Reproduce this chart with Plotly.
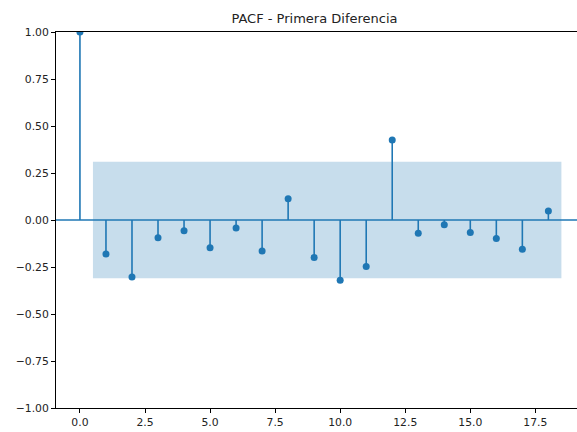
import plotly.graph_objects as go

lags = list(range(19))
pacf_vals = [1.0, -0.181, -0.303, -0.094, -0.057, -0.147, -0.043, -0.165, 0.113,
             -0.199, -0.321, -0.247, 0.426, -0.071, -0.025, -0.066, -0.099, -0.156, 0.048]
conf = 0.31
title_text = "PACF - Primera Diferencia"
x_ticks = [0.0, 2.5, 5.0, 7.5, 10.0, 12.5, 15.0, 17.5]
y_ticks = [-1.0, -0.75, -0.5, -0.25, 0.0, 0.25, 0.5, 0.75, 1.0]

C0 = "#1f77b4"

fig = go.Figure()

# confidence band
bx0 = lags[1] - 0.5
bx1 = lags[-1] + 0.5
fig.add_trace(go.Scatter(
    x=[bx0, bx1, bx1, bx0, bx0], y=[conf, conf, -conf, -conf, conf],
    fill="toself", fillcolor="rgba(31,119,180,0.25)", line=dict(width=0),
    mode="lines", hoverinfo="skip", showlegend=False))

# stems
sx, sy = [], []
for l, v in zip(lags, pacf_vals):
    sx += [l, l, None]
    sy += [0, v, None]
fig.add_trace(go.Scatter(x=sx, y=sy, mode="lines", line=dict(color=C0, width=1.6),
                         showlegend=False, hoverinfo="skip"))

# zero line
fig.add_trace(go.Scatter(x=[-5, 30], y=[0, 0], mode="lines",
                         line=dict(color=C0, width=1.6), showlegend=False, hoverinfo="skip"))

# markers
fig.add_trace(go.Scatter(x=lags, y=pacf_vals, mode="markers",
                         marker=dict(color=C0, size=7), showlegend=False))

fig.update_layout(
    width=577, height=432,
    margin=dict(l=56, r=0, t=32, b=24),
    paper_bgcolor="white", plot_bgcolor="white",
    font=dict(family="DejaVu Sans", size=10.8, color="#222"),
    title=dict(text=title_text, x=0.545, xanchor="center", y=1 - 18 / 432, yanchor="middle",
               font=dict(family="DejaVu Sans", size=13, color="#222")),
    xaxis=dict(range=[-0.92, 19.1], tickvals=x_ticks, ticktext=[f"{t:.1f}" for t in x_ticks],
               showgrid=False, zeroline=False, showline=True, linecolor="black", linewidth=1,
               mirror=True, ticks="outside", ticklen=4, tickcolor="black", tickwidth=1),
    yaxis=dict(range=[-1, 1], tickvals=y_ticks, tickformat=".2f",
               showgrid=False, zeroline=False, showline=True, linecolor="black", linewidth=1,
               ticks="outside", ticklen=4, tickcolor="black", tickwidth=1),
)

fig.write_html("out.html")
